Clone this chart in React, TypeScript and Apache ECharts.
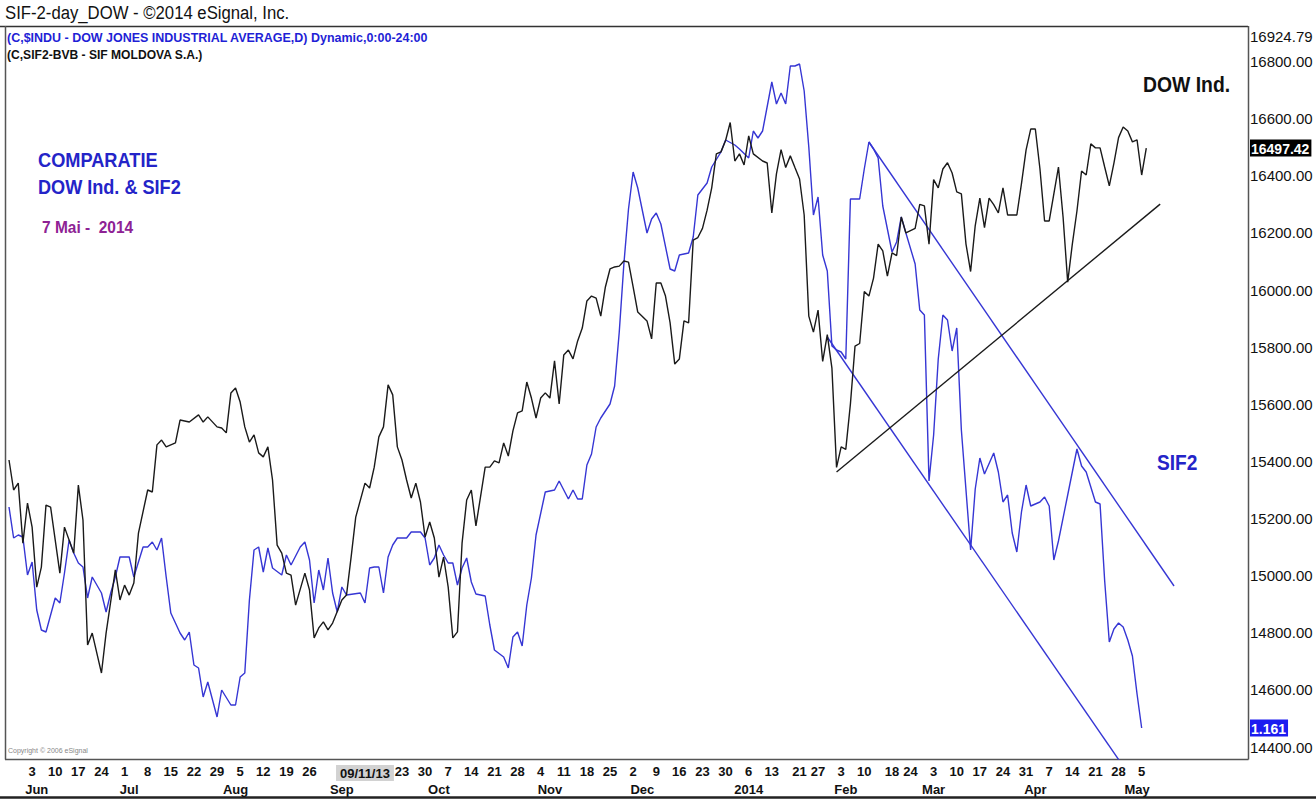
import React, { useEffect, useRef } from 'react';
import * as echarts from 'echarts';

const FONT = "'Liberation Sans Narrow','Arial Narrow','Liberation Sans',Arial,sans-serif";

// Trading-day categories: every weekday from 27 May 2013 (index 0) onwards
const FIRST_DAY = Date.UTC(2013, 4, 27);
const DAY_COUNT = 269;
function buildCategories(): string[] {
  const out: string[] = [];
  let t = FIRST_DAY;
  while (out.length < DAY_COUNT) {
    const d = new Date(t);
    const wd = d.getUTCDay();
    if (wd !== 0 && wd !== 6) out.push(d.toISOString().slice(0, 10));
    t += 86400000;
  }
  return out;
}
const categories = buildCategories();

// Bottom axis: week labels (first trading day of each week) and cursor date box
const dayTickDates = [
  '2013-06-03', '2013-06-10', '2013-06-17', '2013-06-24', '2013-07-01', '2013-07-08', '2013-07-15',
  '2013-07-22', '2013-07-29', '2013-08-05', '2013-08-12', '2013-08-19', '2013-08-26', '2013-09-11',
  '2013-09-23', '2013-09-30', '2013-10-07', '2013-10-14', '2013-10-21', '2013-10-28', '2013-11-04',
  '2013-11-11', '2013-11-18', '2013-11-25', '2013-12-02', '2013-12-09', '2013-12-16', '2013-12-23',
  '2013-12-30', '2014-01-06', '2014-01-13', '2014-01-21', '2014-01-27', '2014-02-03', '2014-02-10',
  '2014-02-18', '2014-02-24', '2014-03-03', '2014-03-10', '2014-03-17', '2014-03-24', '2014-03-31',
  '2014-04-07', '2014-04-14', '2014-04-21', '2014-04-28', '2014-05-05',
];
const cursorDate = '2013-09-11';
const cursorLabel = '09/11/13';
const monthTickDates = [
  '2013-06-04', '2013-07-02', '2013-08-02', '2013-09-04', '2013-10-03', '2013-11-06',
  '2013-12-04', '2014-01-06', '2014-02-04', '2014-03-03', '2014-04-02', '2014-05-02',
];
const monthTickNames = ['Jun', 'Jul', 'Aug', 'Sep', 'Oct', 'Nov', 'Dec', '2014', 'Feb', 'Mar', 'Apr', 'May'];

// Right price scale (DOW)
const dowMin = 14358;
const dowMax = 16924.79;
const dowTicks = [14400, 14600, 14800, 15000, 15200, 15400, 15600, 15800, 16000, 16200, 16400, 16600, 16800];
const dowLast = 16497.42;
// hidden SIF2 scale
const sifMin = 1.13;
const sifMax = 1.863;
const sifLast = 1.161;

// DOW Jones Industrial Average closes: [trading-day index, close]
const dowSeries: [number, number][] = [
  [0, 15405], [1, 15300], [2, 15324], [3, 15114], [4, 15254], [5, 15170], [6, 14960], [7, 15030],
  [8, 15247], [9, 15240], [11, 15009], [12, 15170], [14, 15079], [15, 15317], [16, 15195], [17, 14757],
  [18, 14799], [20, 14659], [21, 14799], [23, 15020], [24, 14915], [25, 14967], [26, 14932], [27, 14974],
  [28, 15149], [30, 15300], [31, 15293], [32, 15458], [33, 15475], [34, 15451], [36, 15465], [37, 15545],
  [39, 15538], [41, 15563], [42, 15538], [43, 15556], [45, 15521], [46, 15517], [47, 15500], [48, 15640],
  [49, 15657], [50, 15608], [51, 15521], [52, 15468], [53, 15493], [54, 15430], [55, 15416], [56, 15451],
  [57, 15335], [58, 15107], [59, 15079], [60, 15009], [61, 15002], [62, 14897], [64, 15009], [65, 14950],
  [66, 14782], [67, 14817], [68, 14838], [69, 14810], [70, 14834], [72, 14915], [73, 14932], [74, 15065],
  [75, 15205], [77, 15324], [78, 15307], [79, 15380], [80, 15486], [81, 15521], [82, 15668], [83, 15633],
  [84, 15451], [85, 15405], [86, 15335], [87, 15272], [88, 15324], [89, 15258], [90, 15135], [91, 15188],
  [92, 15132], [93, 14995], [94, 15065], [95, 14960], [96, 14782], [97, 14803], [98, 15114], [99, 15265],
  [100, 15300], [101, 15174], [103, 15380], [104, 15380], [105, 15402], [106, 15395], [107, 15465], [108, 15419],
  [109, 15507], [110, 15570], [111, 15577], [112, 15678], [113, 15622], [114, 15552], [115, 15622], [116, 15640],
  [117, 15622], [118, 15752], [119, 15601], [120, 15773], [121, 15790], [122, 15759], [123, 15822], [124, 15867],
  [125, 15962], [126, 15979], [127, 15972], [128, 15909], [129, 16011], [130, 16074], [131, 16081], [132, 16084],
  [133, 16102], [134, 16098], [135, 16011], [136, 15923], [138, 15892], [139, 15829], [140, 16025], [141, 16025],
  [142, 15979], [143, 15885], [144, 15741], [145, 15759], [146, 15892], [147, 15885], [148, 16175], [149, 16184],
  [150, 16216], [151, 16280], [152, 16358], [153, 16477], [154, 16484], [155, 16524], [156, 16587], [157, 16452],
  [158, 16477], [159, 16438], [160, 16540], [161, 16477], [163, 16452], [164, 16445], [165, 16270], [166, 16407],
  [167, 16492], [168, 16429], [169, 16470], [170, 16429], [171, 16389], [172, 16263], [173, 15909], [174, 15853],
  [175, 15930], [176, 15750], [177, 15844], [178, 15727], [179, 15379], [180, 15451], [181, 15442], [182, 15601],
  [183, 15804], [184, 15813], [185, 15995], [186, 15979], [187, 16042], [188, 16161], [189, 16137], [190, 16049],
  [191, 16130], [192, 16121], [193, 16256], [194, 16200], [196, 16216], [197, 16300], [198, 16295], [199, 16161],
  [200, 16387], [201, 16358], [202, 16424], [203, 16446], [204, 16410], [205, 16344], [206, 16337], [207, 16161],
  [208, 16065], [209, 16226], [210, 16322], [211, 16219], [212, 16322], [213, 16299], [214, 16270], [215, 16358],
  [216, 16263], [218, 16263], [219, 16373], [220, 16491], [221, 16564], [222, 16564], [223, 16424], [224, 16242],
  [225, 16242], [227, 16431], [228, 16256], [229, 16028], [230, 16161], [231, 16277], [232, 16417], [233, 16403],
  [234, 16512], [235, 16498], [236, 16498], [237, 16431], [238, 16365], [239, 16445], [240, 16534], [241, 16571],
  [242, 16557], [243, 16519], [244, 16526], [245, 16403], [246, 16497.42],
];

// SIF2 (SIF Moldova) closes: [trading-day index, close]
const sifSeries: [number, number][] = [
  [0, 1.382], [1, 1.351], [2, 1.354], [3, 1.352], [4, 1.314], [5, 1.327], [6, 1.279], [7, 1.259],
  [8, 1.257], [10, 1.291], [11, 1.286], [12, 1.316], [13, 1.349], [14, 1.336], [15, 1.326], [16, 1.322],
  [17, 1.291], [18, 1.312], [20, 1.296], [21, 1.277], [22, 1.296], [23, 1.312], [24, 1.332], [26, 1.332],
  [27, 1.312], [29, 1.342], [30, 1.342], [31, 1.347], [32, 1.339], [33, 1.351], [34, 1.312], [35, 1.276],
  [37, 1.256], [38, 1.249], [39, 1.257], [40, 1.224], [41, 1.221], [42, 1.192], [43, 1.207], [45, 1.172],
  [46, 1.199], [48, 1.184], [49, 1.184], [50, 1.212], [51, 1.216], [52, 1.289], [53, 1.339], [54, 1.342],
  [55, 1.317], [56, 1.341], [57, 1.321], [59, 1.314], [60, 1.334], [61, 1.324], [63, 1.342], [64, 1.347],
  [65, 1.329], [66, 1.286], [67, 1.319], [68, 1.299], [69, 1.331], [70, 1.296], [71, 1.277], [72, 1.302],
  [73, 1.294], [76, 1.296], [77, 1.286], [78, 1.321], [79, 1.322], [80, 1.322], [81, 1.296], [82, 1.332],
  [83, 1.344], [84, 1.351], [86, 1.351], [87, 1.357], [89, 1.357], [90, 1.351], [91, 1.324], [92, 1.331],
  [93, 1.344], [94, 1.334], [95, 1.326], [96, 1.326], [97, 1.304], [98, 1.321], [99, 1.331], [100, 1.307],
  [101, 1.295], [103, 1.293], [104, 1.264], [105, 1.239], [107, 1.232], [108, 1.221], [109, 1.252], [110, 1.257],
  [111, 1.243], [112, 1.284], [113, 1.311], [114, 1.354], [116, 1.397], [118, 1.399], [119, 1.408], [121, 1.39],
  [122, 1.399], [123, 1.39], [124, 1.39], [125, 1.424], [126, 1.435], [127, 1.462], [128, 1.471], [130, 1.485],
  [131, 1.503], [132, 1.557], [133, 1.625], [134, 1.68], [135, 1.717], [136, 1.701], [138, 1.656], [139, 1.67],
  [140, 1.676], [141, 1.665], [143, 1.62], [144, 1.618], [145, 1.634], [147, 1.636], [148, 1.652], [149, 1.694],
  [151, 1.706], [152, 1.722], [154, 1.737], [155, 1.749], [157, 1.744], [158, 1.74], [160, 1.731], [161, 1.758],
  [162, 1.751], [163, 1.758], [165, 1.807], [166, 1.785], [167, 1.796], [168, 1.785], [169, 1.823], [170, 1.823],
  [171, 1.825], [172, 1.798], [173, 1.742], [174, 1.674], [175, 1.692], [176, 1.634], [177, 1.618], [178, 1.543],
  [179, 1.539], [180, 1.537], [181, 1.53], [182, 1.69], [184, 1.69], [185, 1.72], [186, 1.747], [187, 1.74],
  [188, 1.731], [189, 1.683], [191, 1.637], [192, 1.647], [193, 1.672], [194, 1.656], [196, 1.625], [197, 1.579],
  [198, 1.574], [199, 1.408], [200, 1.454], [201, 1.53], [202, 1.574], [203, 1.569], [204, 1.538], [205, 1.561],
  [206, 1.459], [208, 1.339], [209, 1.4], [210, 1.431], [211, 1.415], [213, 1.436], [214, 1.417], [215, 1.387],
  [216, 1.394], [217, 1.356], [218, 1.337], [219, 1.377], [220, 1.404], [221, 1.383], [223, 1.387], [224, 1.392],
  [225, 1.383], [226, 1.329], [227, 1.348], [229, 1.394], [230, 1.417], [231, 1.44], [232, 1.423], [233, 1.417],
  [234, 1.402], [235, 1.387], [236, 1.385], [237, 1.308], [238, 1.247], [239, 1.26], [240, 1.266], [241, 1.262],
  [242, 1.249], [243, 1.233], [244, 1.195], [245, 1.161],
];

// Hand-drawn trend lines
const dowSupport: [number, number][] = [[179, 15363], [249, 16301]];
const sifUpperChannel: [number, number][] = [[186, 1.747], [252, 1.303]];
const sifLowerChannel: [number, number][] = [[177, 1.552], [245, 1.096]];

const BLACK = '#1a1a1a';
const BLUE = '#3636d4';

function label(text: string, x: number, y: number, font: string, fill: string, scaleX: number) {
  return {
    type: 'text',
    x,
    y,
    scaleX,
    style: { text, fill, font, verticalAlign: 'middle', align: 'left' },
  };
}

export default function App() {
  const ref = useRef<HTMLDivElement>(null);

  useEffect(() => {
    if (!ref.current) return;
    const chart = echarts.init(ref.current, undefined, { renderer: 'svg' });
    const dayLabels = new Map<string, string>();
    dayTickDates.forEach((d) => {
      dayLabels.set(d, d === cursorDate ? `{cur|${cursorLabel}}` : String(Number(d.slice(8, 10))));
    });
    const monthLabels = new Map<string, string>();
    monthTickDates.forEach((d, i) => monthLabels.set(d, monthTickNames[i]));

    const near = (a: number, b: number) => Math.abs(a - b) < 1e-6;

    const option: any = {
      animation: false,
      backgroundColor: '#ffffff',
      grid: { left: 9, right: 68, top: 26, bottom: 41, containLabel: false },
      xAxis: [
        {
          type: 'category',
          data: categories,
          boundaryGap: false,
          position: 'bottom',
          axisLine: { show: false },
          axisTick: { show: false },
          splitLine: { show: false },
          axisLabel: {
            interval: (_i: number, v: string) => dayLabels.has(v),
            formatter: (v: string) => dayLabels.get(v) || '',
            margin: 6,
            color: '#111',
            fontFamily: FONT,
            fontSize: 13,
            fontWeight: 'bold',
            rich: {
              cur: {
                backgroundColor: '#d2d2d2',
                padding: [2, 4, 1, 4],
                color: '#111',
                fontFamily: FONT,
                fontSize: 13,
                fontWeight: 'bold',
              },
            },
          },
        },
        {
          type: 'category',
          data: categories,
          boundaryGap: false,
          position: 'bottom',
          offset: 18,
          axisLine: { show: false },
          axisTick: { show: false },
          splitLine: { show: false },
          axisLabel: {
            interval: (_i: number, v: string) => monthLabels.has(v),
            formatter: (v: string) => monthLabels.get(v) || '',
            margin: 6,
            color: '#111',
            fontFamily: FONT,
            fontSize: 13,
            fontWeight: 'bold',
          },
        },
      ],
      yAxis: [
        {
          type: 'value',
          position: 'right',
          min: dowMin,
          max: dowMax,
          scale: true,
          axisLine: { show: false },
          axisTick: { show: false },
          splitLine: { show: false },
          axisLabel: {
            customValues: [...dowTicks, dowLast, dowMax],
            margin: 2,
            align: 'left',
            color: '#111',
            fontFamily: FONT,
            fontSize: 15,
            formatter: (v: number) => {
              if (near(v, dowMax)) return `{top|${dowMax.toFixed(2)}}`;
              if (near(v, dowLast)) return `{last|${dowLast.toFixed(2)}}`;
              return v.toFixed(2);
            },
            rich: {
              top: { color: '#111', fontFamily: FONT, fontSize: 15, padding: [20, 0, 0, 0] },
              last: {
                color: '#fff',
                backgroundColor: '#000',
                fontFamily: FONT,
                fontSize: 14,
                fontWeight: 'bold',
                padding: [2, 2, 1, 1],
              },
            },
          },
        },
        {
          type: 'value',
          position: 'right',
          min: sifMin,
          max: sifMax,
          scale: true,
          axisLine: { show: false },
          axisTick: { show: false },
          splitLine: { show: false },
          axisLabel: {
            customValues: [sifLast],
            margin: 2,
            align: 'left',
            formatter: (v: number) => `{s|${v.toFixed(3)}}`,
            rich: {
              s: {
                color: '#fff',
                backgroundColor: '#1c1cf0',
                fontFamily: FONT,
                fontSize: 14,
                fontWeight: 'bold',
                padding: [2, 2, 1, 1],
              },
            },
          },
        },
      ],
      series: [
        {
          name: 'SIF2',
          type: 'line',
          xAxisIndex: 0,
          yAxisIndex: 1,
          data: sifSeries,
          symbol: 'none',
          clip: true,
          lineStyle: { color: BLUE, width: 1.4 },
        },
        {
          name: 'SIF2 channel top',
          type: 'line',
          xAxisIndex: 0,
          yAxisIndex: 1,
          data: sifUpperChannel,
          symbol: 'none',
          clip: true,
          lineStyle: { color: BLUE, width: 1.4 },
        },
        {
          name: 'SIF2 channel bottom',
          type: 'line',
          xAxisIndex: 0,
          yAxisIndex: 1,
          data: sifLowerChannel,
          symbol: 'none',
          clip: true,
          lineStyle: { color: BLUE, width: 1.4 },
        },
        {
          name: 'DOW',
          type: 'line',
          xAxisIndex: 0,
          yAxisIndex: 0,
          data: dowSeries,
          symbol: 'none',
          clip: true,
          lineStyle: { color: BLACK, width: 1.4 },
        },
        {
          name: 'DOW support',
          type: 'line',
          xAxisIndex: 0,
          yAxisIndex: 0,
          data: dowSupport,
          symbol: 'none',
          clip: true,
          lineStyle: { color: BLACK, width: 1.4 },
        },
      ],
      graphic: [
        { type: 'line', shape: { x1: 0, y1: 26.5, x2: 1248, y2: 26.5 }, style: { stroke: '#333', lineWidth: 1.5 } },
        { type: 'line', shape: { x1: 5.5, y1: 26, x2: 5.5, y2: 759.5 }, style: { stroke: '#555', lineWidth: 1.5 } },
        { type: 'line', shape: { x1: 1248.5, y1: 26, x2: 1248.5, y2: 759.5 }, style: { stroke: '#555', lineWidth: 1.5 } },
        { type: 'line', shape: { x1: 5, y1: 759.5, x2: 1248.5, y2: 759.5 }, style: { stroke: '#555', lineWidth: 1.5 } },
        { type: 'line', shape: { x1: 0, y1: 797.5, x2: 1316, y2: 797.5 }, style: { stroke: '#222', lineWidth: 2.5 } },
        label('SIF-2-day_DOW - ©2014 eSignal, Inc.', 5, 13, `19px ${FONT}`, '#111', 0.88),
        label('(C,$INDU - DOW JONES INDUSTRIAL AVERAGE,D) Dynamic,0:00-24:00', 7, 37, `bold 13px ${FONT}`, '#1f1fd6', 0.96),
        label('(C,SIF2-BVB - SIF MOLDOVA S.A.)', 7, 55, `bold 13px ${FONT}`, '#111', 0.93),
        label('COMPARATIE', 38, 160, `bold 20px ${FONT}`, '#2424c8', 0.91),
        label('DOW Ind. & SIF2', 38, 187, `bold 20px ${FONT}`, '#2424c8', 0.905),
        label('7 Mai -  2014', 42, 227, `bold 17px ${FONT}`, '#8e2294', 0.91),
        label('DOW Ind.', 1143, 84, `bold 22px ${FONT}`, '#111', 0.88),
        label('SIF2', 1157, 462, `bold 22px ${FONT}`, '#2424c8', 0.87),
        label('Copyright © 2006 eSignal', 8, 750, `7px ${FONT}`, '#888', 1),
      ],
    };
    chart.setOption(option);
    return () => chart.dispose();
  }, []);

  return <div ref={ref} style={{ position: 'absolute', left: 0, top: 0, width: 1316, height: 800 }} />;
}
